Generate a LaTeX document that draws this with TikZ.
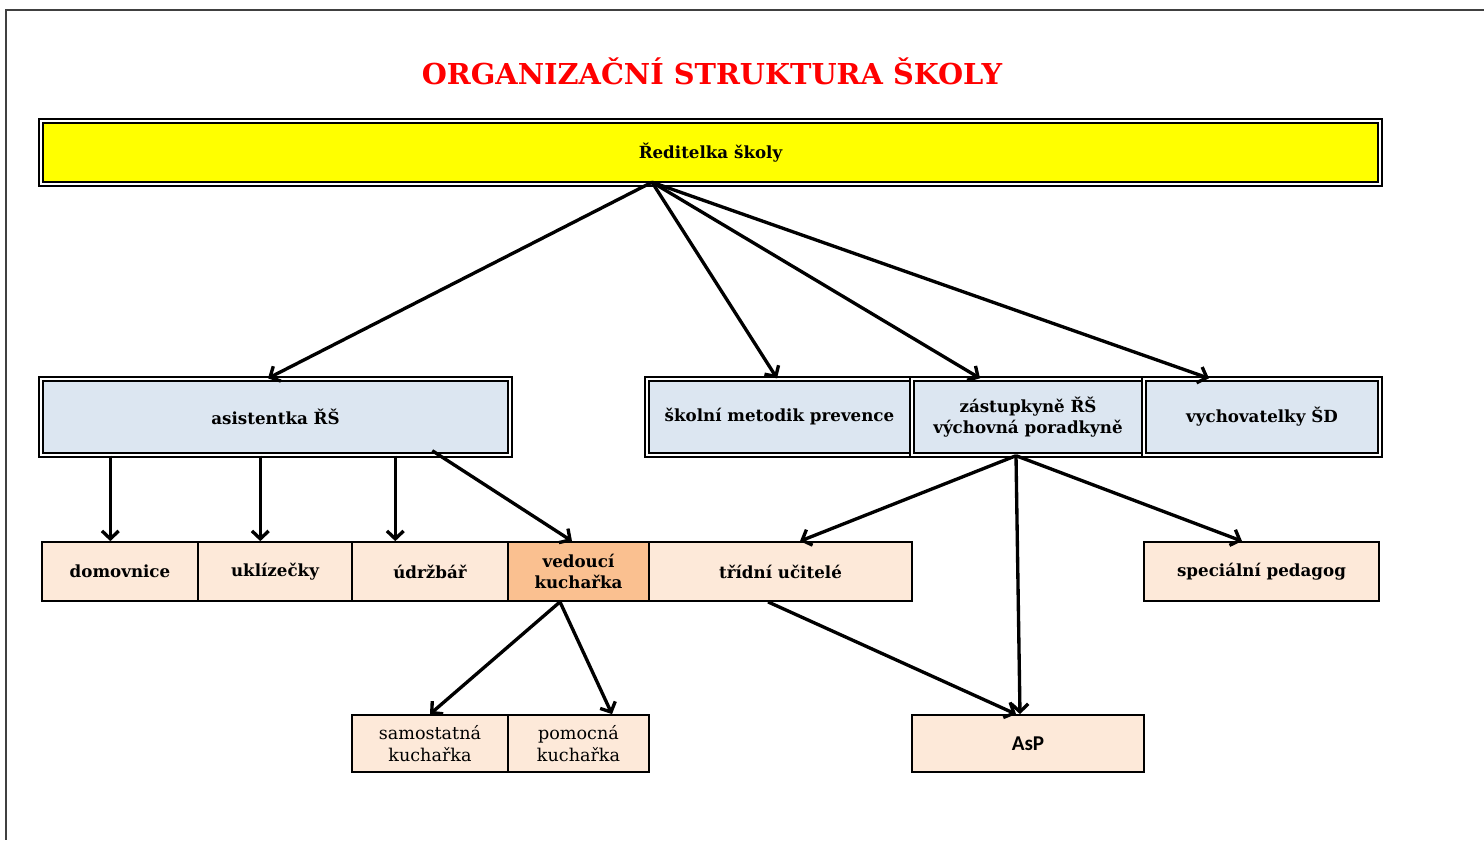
\documentclass[tikz,border=0pt]{standalone}
\usepackage{fontspec}
\setmainfont{DejaVu Serif}
\newfontfamily\aspfont{Carlito}
\usetikzlibrary{arrows.meta}

\begin{document}
\begin{tikzpicture}[x=0.02cm,y=-0.02cm]
	\definecolor{headyellow}{HTML}{FFFF00}
	\definecolor{lightblue}{HTML}{DCE6F1}
	\definecolor{lightpeach}{HTML}{FDE9D9}
	\definecolor{darkpeach}{HTML}{FAC090}
	\tikzset{
		dblbox/.style={draw=black, double=white, double distance=1.4pt, line width=0.8pt, inner sep=0pt, align=center, font=\bfseries\fontsize{9.5}{12}\selectfont},
		rowbox/.style={draw=black, line width=1pt, fill=lightpeach, inner sep=0pt, align=center, font=\bfseries\fontsize{9.5}{12}\selectfont},
		link/.style={line width=1.9pt, -{Straight Barb[length=4.5pt,width=9.5pt]}}
	}
	\useasboundingbox (0,0) rectangle (1484,840);
	
	% frame
	\draw[line width=0.8pt, black!75] (1484,10) -- (6,10) -- (6,840);
	
	% title
	\node[text=red, font=\bfseries\fontsize{16.4}{19}\selectfont] (title) at (712,71) {ORGANIZAČNÍ STRUKTURA ŠKOLY};
	
	\node[dblbox, fill=headyellow, minimum width=26.78cm, minimum height=1.26cm] (reditelka) at (710.5,152.5) {Ředitelka školy};
	
	% second level
	\node[dblbox, fill=lightblue, minimum width=9.38cm, minimum height=1.52cm] (asistentka) at (275.5,417) {asistentka ŘŠ};
	\node[dblbox, fill=lightblue, minimum width=5.3cm, minimum height=1.52cm] (metodik) at (779.5,417) {školní metodik prevence};
	\node[dblbox, fill=lightblue, minimum width=4.64cm, minimum height=1.52cm] (zastupkyne) at (1028,417) {zástupkyně ŘŠ\\výchovná poradkyně};
	\node[dblbox, fill=lightblue, minimum width=4.72cm, minimum height=1.52cm] (vychovatelky) at (1262,417) {vychovatelky ŠD};
	
	% third level
	\node[rowbox, minimum width=3.12cm, minimum height=1.18cm] (domovnice) at (120,571.5) {domovnice};
	\node[rowbox, minimum width=3.08cm, minimum height=1.18cm] (uklizecky) at (275,571.5) {uklízečky};
	\node[rowbox, minimum width=3.12cm, minimum height=1.18cm] (udrzbar) at (430,571.5) {údržbář};
	\node[rowbox, fill=darkpeach, minimum width=2.82cm, minimum height=1.18cm] (vedouci) at (578.5,571.5) {vedoucí\\kuchařka};
	\node[rowbox, minimum width=5.26cm, minimum height=1.18cm] (tridni) at (780.5,571.5) {třídní učitelé};
	\node[rowbox, minimum width=4.7cm, minimum height=1.18cm] (specialni) at (1261.5,571.5) {speciální pedagog};
	
	% fourth level
	\node[rowbox, font=\fontsize{10}{12.5}\selectfont, minimum width=3.12cm, minimum height=1.14cm] (samostatna) at (430,743.5) {samostatná\\kuchařka};
	\node[rowbox, font=\fontsize{10}{12.5}\selectfont, minimum width=2.82cm, minimum height=1.14cm] (pomocna) at (578.5,743.5) {pomocná\\kuchařka};
	\node[rowbox, font=\aspfont\bfseries\fontsize{12}{14}\selectfont, minimum width=4.64cm, minimum height=1.14cm] (asp) at (1028,743.5) {AsP};
	
	% arrows
	\coordinate (hub) at ([xshift=-1.17cm, yshift=0.05cm]reditelka.south);
	\draw[link] (hub) -- ([xshift=-0.15cm]asistentka.north);
	\draw[link] (hub) -- ([xshift=-0.05cm]metodik.north);
	\draw[link] (hub) -- ([xshift=-0.96cm]zastupkyne.north);
	\draw[link] (hub) -- ([xshift=-1.06cm]vychovatelky.north);
	
	\draw[link] ([xshift=1.4cm]asistentka.south west) -- ([xshift=1.4cm]asistentka.south west |- domovnice.north);
	\draw[link] ([xshift=4.4cm]asistentka.south west) -- ([xshift=4.4cm]asistentka.south west |- uklizecky.north);
	\draw[link] ([xshift=7.1cm]asistentka.south west) -- ([xshift=7.1cm]asistentka.south west |- udrzbar.north);
	\draw[link] ([xshift=7.84cm, yshift=0.1cm]asistentka.south west) -- ([xshift=-0.13cm]vedouci.north);
	
	\draw[link] ([xshift=-0.24cm]zastupkyne.south) -- ([xshift=0.39cm]tridni.north);
	\draw[link] ([xshift=-0.24cm]zastupkyne.south) -- ([xshift=-0.16cm]asp.north);
	\draw[link] ([xshift=-0.24cm]zastupkyne.south) -- ([xshift=-0.39cm]specialni.north);
	
	\draw[link] ([xshift=-0.37cm]vedouci.south) -- (samostatna.north);
	\draw[link] ([xshift=-0.37cm]vedouci.south) -- ([xshift=0.67cm]pomocna.north);
	\draw[link] ([xshift=-0.25cm]tridni.south) -- ([xshift=-0.24cm]asp.north);
\end{tikzpicture}
\end{document}
